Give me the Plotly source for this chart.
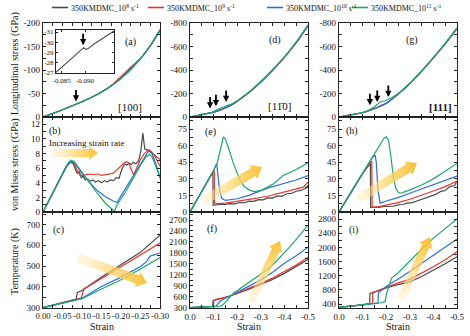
import math
import plotly.graph_objects as go

W, H = 470, 336
SERIF = "Liberation Serif"
INK = "#222222"

# ---- series -------------------------------------------------------------
SERIES_COLORS = ["#4a4a4a", "#e8332c", "#2d6fd8", "#1fa66c"]
SERIES_NAMES = [
    "350KMDMC_10<sup>8</sup> s<sup>-1</sup>",
    "350KMDMC_10<sup>9</sup> s<sup>-1</sup>",
    "350KMDMC_10<sup>10</sup> s<sup>-1</sup>",
    "350KMDMC_10<sup>11</sup> s<sup>-1</sup>",
]

# ---- (a) longitudinal stress, [100] --------------------------------------
STRAIN_A = [0, -0.025, -0.05, -0.075, -0.1, -0.125, -0.15, -0.175, -0.2, -0.225, -0.25, -0.275, -0.3]
A_GREY = [0, -7.5, -15.5, -24, -32.5, -42, -53, -66.5, -84, -104, -124, -151, -184]
A_RED = [0, -7.5, -15.5, -24, -32.5, -42, -53, -67, -86, -106, -125, -152, -184]
A_BLUE = [0, -7.5, -15.5, -24, -32.5, -42, -53, -66, -82, -101, -124, -152, -186]
A_GREEN = [0, -7.5, -15.5, -24, -32.5, -42, -53, -66, -82, -101, -124, -152, -185]

# inset of (a): local bump of the 10^8 s^-1 curve
INSET_STRAIN = [-0.0838, -0.0860, -0.0880, -0.0893, -0.0897, -0.0901, -0.0906, -0.0920, -0.0940, -0.0962]
INSET_STRESS = [-27.05, -27.9, -28.75, -29.3, -29.45, -29.3, -29.35, -29.85, -30.45, -31.1]

# ---- (b) von Mises stress, [100] -----------------------------------------
B_GREY_X = [0, -0.02, -0.04, -0.06, -0.07, -0.078, -0.083, -0.088, -0.093, -0.098, -0.103, -0.108,
            -0.115, -0.12, -0.128, -0.135, -0.142, -0.15, -0.158, -0.165, -0.172, -0.18, -0.188,
            -0.195, -0.2, -0.205, -0.21, -0.215, -0.22, -0.226, -0.232, -0.238, -0.245, -0.251,
            -0.256, -0.261, -0.268, -0.275, -0.285, -0.3]
B_GREY_Y = [0, 2.1, 4.2, 6.3, 6.8, 6.6, 5.8, 5.3, 5.5, 4.7, 4.9, 4.4, 4.5, 4.2, 4.4, 4.1, 4.3,
            4.0, 4.3, 4.1, 4.4, 4.3, 4.7, 4.6, 5.5, 6.2, 6.6, 6.4, 6.7, 6.5, 6.8, 6.6, 7.0, 8.4,
            10.8, 8.6, 8.5, 8.2, 7.9, 7.2]
B_RED_X = [0, -0.02, -0.04, -0.06, -0.072, -0.08, -0.085, -0.09, -0.095, -0.1, -0.11, -0.12,
           -0.13, -0.14, -0.15, -0.16, -0.17, -0.18, -0.19, -0.2, -0.21, -0.215, -0.22, -0.226,
           -0.232, -0.24, -0.25, -0.26, -0.27, -0.275, -0.285, -0.3]
B_RED_Y = [0, 2.1, 4.2, 6.2, 6.9, 6.7, 6.0, 5.4, 5.0, 5.0, 5.1, 5.2, 5.1, 5.2, 5.0, 5.1, 5.2,
           5.3, 5.8, 6.3, 6.8, 6.9, 6.7, 5.8, 5.1, 6.0, 7.2, 8.0, 8.5, 8.4, 7.8, 6.3]
B_BLUE_X = [0, -0.03, -0.06, -0.072, -0.08, -0.1, -0.12, -0.14, -0.16, -0.18, -0.19, -0.2,
            -0.22, -0.24, -0.26, -0.27, -0.278, -0.29, -0.3]
B_BLUE_Y = [0, 3.1, 6.2, 6.9, 6.8, 5.3, 4.0, 2.9, 2.1, 1.5, 1.3, 2.2, 4.0, 5.8, 7.6, 8.3, 8.2, 6.5, 4.6]
B_GREEN_X = [0, -0.03, -0.06, -0.065, -0.072, -0.08, -0.1, -0.12, -0.14, -0.16, -0.18, -0.183,
             -0.19, -0.21, -0.23, -0.25, -0.265, -0.274, -0.28, -0.29, -0.3]
B_GREEN_Y = [0, 3.0, 6.2, 6.8, 7.1, 6.9, 5.4, 3.9, 2.5, 1.2, 0.3, 0.1, 1.0, 2.6, 4.5, 6.4, 7.6,
             7.9, 7.5, 6.2, 4.8]

# ---- (c) temperature, [100] ----------------------------------------------
C_GREY_X = [0, -0.05, -0.085, -0.088, -0.1, -0.15, -0.2, -0.25, -0.257, -0.3]
C_GREY_Y = [300, 322, 341, 373, 383, 448, 506, 566, 578, 648]
C_RED_X = [0, -0.05, -0.085, -0.098, -0.105, -0.15, -0.2, -0.25, -0.3]
C_RED_Y = [300, 322, 340, 347, 390, 440, 497, 552, 611]
C_BLUE_X = [0, -0.05, -0.1, -0.15, -0.2, -0.25, -0.265, -0.275, -0.3]
C_BLUE_Y = [300, 322, 345, 402, 447, 498, 520, 548, 563]
C_GREEN_X = [0, -0.05, -0.1, -0.15, -0.2, -0.25, -0.3]
C_GREEN_Y = [300, 322, 343, 390, 434, 486, 541]

# ---- (d) longitudinal stress, [1-10] -------------------------------------
STRAIN_D = [0, -0.05, -0.085, -0.1, -0.12, -0.15, -0.175, -0.2, -0.25, -0.3, -0.35, -0.4, -0.45, -0.5]
D_GREY = [0, -20, -36, -42, -55, -78, -102, -135, -210, -300, -400, -510, -635, -782]
D_RED = [0, -20, -33, -38, -52, -76, -101, -134, -208, -296, -396, -505, -630, -776]
D_BLUE = [0, -20, -35, -41, -54, -78, -102, -135, -210, -300, -400, -510, -634, -780]
D_GREEN = [0, -20, -36, -46, -68, -92, -110, -138, -212, -302, -403, -512, -637, -785]

# ---- (e) von Mises stress, [1-10] ----------------------------------------
E_GREY_X = [0, -0.05, -0.097, -0.098, -0.11, -0.13, -0.15, -0.17, -0.19, -0.21, -0.23, -0.25,
            -0.27, -0.29, -0.31, -0.33, -0.35, -0.37, -0.39, -0.41, -0.43, -0.45, -0.47, -0.49, -0.5]
E_GREY_Y = [0, 18.5, 36, 6, 6.5, 7, 6.8, 7.6, 7.4, 8.6, 8.2, 9.8, 9.6, 11.2, 11.0, 12.8, 12.6,
            14.5, 14.2, 16.5, 16.8, 18.8, 19.5, 21.5, 24]
E_RED_X = [0, -0.05, -0.1, -0.103, -0.1035, -0.12, -0.15, -0.2, -0.25, -0.325, -0.4, -0.45, -0.48, -0.5]
E_RED_Y = [0, 18.5, 37.5, 38.5, 8, 7.5, 8, 9.5, 11.5, 14, 18, 21, 22.5, 27]
E_BLUE_X = [0, -0.05, -0.1, -0.113, -0.118, -0.125, -0.134, -0.15, -0.2, -0.25, -0.325, -0.4, -0.45, -0.5]
E_BLUE_Y = [0, 18.5, 37.5, 44, 35, 20, 12.4, 10.5, 12, 15, 21.4, 26, 29, 33]
E_GREEN_X = [0, -0.05, -0.1, -0.115, -0.125, -0.135, -0.141, -0.15, -0.16, -0.17, -0.184, -0.2,
             -0.212, -0.23, -0.25, -0.27, -0.3, -0.35, -0.395, -0.45, -0.5]
E_GREEN_Y = [0, 18.5, 37.5, 44, 52, 62, 68, 66, 60, 53, 44, 35, 29, 23, 20, 18.5, 19.5, 25, 33, 38.5, 44.5]

# ---- (f) temperature, [1-10] ---------------------------------------------
F_GREY_X = [0, -0.05, -0.096, -0.097, -0.11, -0.13, -0.15, -0.17, -0.2, -0.25, -0.3, -0.35, -0.4, -0.45, -0.5]
F_GREY_Y = [300, 315, 330, 490, 520, 550, 580, 620, 690, 810, 940, 1075, 1240, 1420, 1620]
F_RED_X = [0, -0.05, -0.1, -0.101, -0.11, -0.13, -0.15, -0.17, -0.2, -0.25, -0.3, -0.35, -0.4, -0.45, -0.5]
F_RED_Y = [300, 315, 332, 500, 530, 555, 580, 620, 700, 830, 968, 1115, 1285, 1470, 1680]
F_BLUE_X = [0, -0.05, -0.1, -0.11, -0.12, -0.13, -0.15, -0.17, -0.2, -0.25, -0.3, -0.35, -0.4, -0.45, -0.5]
F_BLUE_Y = [300, 315, 330, 340, 420, 490, 560, 630, 730, 890, 1058, 1270, 1515, 1720, 1953]
F_GREEN_X = [0, -0.05, -0.1, -0.13, -0.14, -0.15, -0.16, -0.17, -0.184, -0.2, -0.25, -0.3,
             -0.325, -0.35, -0.4, -0.424, -0.45, -0.5]
F_GREEN_Y = [300, 315, 330, 345, 380, 460, 540, 600, 694, 766, 992, 1218, 1331, 1470, 1800, 1970, 2170, 2563]

# ---- (g) longitudinal stress, [111] --------------------------------------
STRAIN_G = [0, -0.05, -0.085, -0.1, -0.12, -0.15, -0.175, -0.2, -0.25, -0.3, -0.35, -0.4, -0.45, -0.5]
G_GREY = [0, -18, -32, -38, -50, -72, -94, -118, -195, -285, -390, -505, -625, -756]
G_RED = [0, -18, -30, -36, -48, -70, -93, -117, -194, -283, -388, -502, -622, -752]
G_BLUE = [0, -18, -31, -37, -49, -70, -92, -116, -194, -284, -390, -505, -625, -756]
G_GREEN = [0, -18, -32, -38, -52, -88, -125, -142, -198, -287, -392, -506, -627, -758]

# ---- (h) von Mises stress, [111] -----------------------------------------
H_GREY_X = [0, -0.05, -0.1, -0.133, -0.134, -0.15, -0.17, -0.19, -0.21, -0.23, -0.25, -0.27,
            -0.29, -0.31, -0.33, -0.35, -0.37, -0.39, -0.41, -0.43, -0.45, -0.47, -0.49, -0.5]
H_GREY_Y = [0, 17.5, 35, 44, 4, 4.5, 4.2, 5.0, 5.4, 5.2, 6.5, 6.8, 8.0, 8.5, 10.0, 11.5, 12.5,
            14.5, 16.0, 18.5, 19.5, 23, 24, 28]
H_RED_X = [0, -0.05, -0.1, -0.139, -0.1405, -0.16, -0.2, -0.25, -0.3, -0.35, -0.4, -0.45, -0.5]
H_RED_Y = [0, 17.5, 35, 46, 4.5, 4.5, 6, 8.5, 11.5, 15, 19, 23, 28]
H_BLUE_X = [0, -0.05, -0.1, -0.139, -0.153, -0.158, -0.165, -0.174, -0.2, -0.25, -0.3, -0.35, -0.4, -0.45, -0.5]
H_BLUE_Y = [0, 17.5, 35, 48.5, 51.5, 45, 20, 8, 10, 13, 17, 21, 25, 29, 32.5]
H_GREEN_X = [0, -0.05, -0.1, -0.139, -0.16, -0.18, -0.19, -0.2, -0.21, -0.22, -0.23, -0.24,
             -0.25, -0.258, -0.27, -0.3, -0.35, -0.4, -0.45, -0.5]
H_GREEN_Y = [0, 17.5, 35, 48.5, 56, 63, 66.5, 68, 65, 50, 32, 22, 18, 17, 17.5, 20, 24.5, 30, 37, 44]

# ---- (i) temperature, [111] ----------------------------------------------
I_GREY_X = [0, -0.05, -0.1, -0.13, -0.131, -0.15, -0.2, -0.25, -0.3, -0.35, -0.4, -0.45, -0.5]
I_GREY_Y = [310, 340, 380, 420, 700, 740, 860, 950, 1030, 1180, 1350, 1540, 1735]
I_RED_X = [0, -0.05, -0.1, -0.142, -0.143, -0.16, -0.2, -0.25, -0.3, -0.35, -0.4, -0.45, -0.5]
I_RED_Y = [310, 340, 380, 425, 730, 770, 880, 1000, 1100, 1270, 1453, 1650, 1877]
I_BLUE_X = [0, -0.05, -0.1, -0.15, -0.165, -0.167, -0.18, -0.2, -0.22, -0.25, -0.3, -0.35, -0.4, -0.45, -0.5]
I_BLUE_Y = [310, 340, 380, 420, 430, 720, 800, 900, 993, 1100, 1320, 1550, 1792, 2000, 2235]
I_GREEN_X = [0, -0.05, -0.1, -0.15, -0.18, -0.195, -0.202, -0.21, -0.215, -0.223, -0.25, -0.3,
             -0.35, -0.4, -0.45, -0.5]
I_GREEN_Y = [310, 340, 380, 420, 440, 470, 710, 900, 1000, 1134, 1280, 1620, 1950, 2263, 2520, 2800]

PANELS = {
    1: [(STRAIN_A, A_GREY), (STRAIN_A, A_RED), (STRAIN_A, A_BLUE), (STRAIN_A, A_GREEN)],
    2: [(STRAIN_D, D_GREY), (STRAIN_D, D_RED), (STRAIN_D, D_BLUE), (STRAIN_D, D_GREEN)],
    3: [(STRAIN_G, G_GREY), (STRAIN_G, G_RED), (STRAIN_G, G_BLUE), (STRAIN_G, G_GREEN)],
    4: [(B_GREY_X, B_GREY_Y), (B_RED_X, B_RED_Y), (B_BLUE_X, B_BLUE_Y), (B_GREEN_X, B_GREEN_Y)],
    5: [(E_GREY_X, E_GREY_Y), (E_RED_X, E_RED_Y), (E_BLUE_X, E_BLUE_Y), (E_GREEN_X, E_GREEN_Y)],
    6: [(H_GREY_X, H_GREY_Y), (H_RED_X, H_RED_Y), (H_BLUE_X, H_BLUE_Y), (H_GREEN_X, H_GREEN_Y)],
    7: [(C_GREY_X, C_GREY_Y), (C_RED_X, C_RED_Y), (C_BLUE_X, C_BLUE_Y), (C_GREEN_X, C_GREEN_Y)],
    8: [(F_GREY_X, F_GREY_Y), (F_RED_X, F_RED_Y), (F_BLUE_X, F_BLUE_Y), (F_GREEN_X, F_GREEN_Y)],
    9: [(I_GREY_X, I_GREY_Y), (I_RED_X, I_RED_Y), (I_BLUE_X, I_BLUE_Y), (I_GREEN_X, I_GREEN_Y)],
}
SMOOTH_PANELS = {1, 2, 3}

# ---- layout geometry (pixels) --------------------------------------------
COLS = [(43, 160), (190, 308), (339, 457)]
ROWS = [(23, 117), (117, 212), (212, 307.7)]

X_RANGES = [[0, -0.3], [0, -0.5], [0, -0.5]]
X_TICKS = [
    ([0, -0.05, -0.1, -0.15, -0.2, -0.25, -0.3], ["0.00", "-0.05", "-0.10", "-0.15", "-0.20", "-0.25", "-0.30"], 0.025),
    ([0, -0.1, -0.2, -0.3, -0.4, -0.5], ["0.0", "-0.1", "-0.2", "-0.3", "-0.4", "-0.5"], 0.05),
    ([0, -0.1, -0.2, -0.3, -0.4, -0.5], ["0.0", "-0.1", "-0.2", "-0.3", "-0.4", "-0.5"], 0.05),
]
Y_SETUP = {
    1: ([0, -200], [0, -50, -100, -150, -200], 25),
    2: ([0, -800], [0, -200, -400, -600, -800], 100),
    3: ([0, -800], [0, -200, -400, -600, -800], 100),
    4: ([0, 13], [0, 2, 4, 6, 8, 10, 12], 1),
    5: ([0, 86], [0, 15, 30, 45, 60, 75], 7.5),
    6: ([0, 86], [0, 15, 30, 45, 60, 75], 7.5),
    7: ([300, 760], [300, 400, 500, 600, 700], 50),
    8: ([300, 2920], [300, 600, 900, 1200, 1500, 1800, 2100, 2400, 2700], 150),
    9: ([300, 3000], [400, 800, 1200, 1600, 2000, 2400, 2800], 200),
}


def px_x(x):
    return x / W


def px_y(y):
    return 1 - y / H


def with_minor(vals, texts, step, lo, hi):
    """Major tick values plus unlabeled in-between ticks every `step`."""
    a, b = min(lo, hi), max(lo, hi)
    allv, allt = list(vals), list(texts)
    n0 = math.ceil(a / step - 1e-9)
    n1 = math.floor(b / step + 1e-9)
    for n in range(n0, n1 + 1):
        v = round(n * step, 6)
        if all(abs(v - m) > 1e-9 for m in vals):
            allv.append(v)
            allt.append("")
    return allv, allt


def axis_common():
    return dict(showline=True, linecolor=INK, linewidth=1.2, mirror="allticks",
                ticks="inside", ticklen=3, tickwidth=1, tickcolor=INK,
                showgrid=False, zeroline=False, automargin=False, tickangle=0,
                tickfont=dict(family=SERIF, size=9, color="#111"))


fig = go.Figure()
layout = {}

for r in range(3):
    for c in range(3):
        k = r * 3 + c + 1
        sx = "" if k == 1 else str(k)
        tv, tt, mdt = X_TICKS[c]
        xv, xt = with_minor(tv, tt, mdt, *X_RANGES[c])
        xa = axis_common()
        xa.update(domain=[px_x(COLS[c][0]), px_x(COLS[c][1])], range=X_RANGES[c],
                  anchor="y" + sx, tickmode="array", tickvals=xv, ticktext=xt,
                  showticklabels=(r == 2))
        if c == 0:
            xa["tickfont"] = dict(family=SERIF, size=8.6, color="#111")
        yr, ytv, ymdt = Y_SETUP[k]
        yv, yt = with_minor(ytv, [str(v) for v in ytv], ymdt, *yr)
        ya = axis_common()
        ya.update(domain=[px_y(ROWS[r][1]), px_y(ROWS[r][0])], range=yr, anchor="x" + sx,
                  tickmode="array", tickvals=yv, ticktext=yt)
        layout["xaxis" + sx] = xa
        layout["yaxis" + sx] = ya
        for i, (xs, ys) in enumerate(PANELS[k]):
            line = dict(color=SERIES_COLORS[i], width=1.2)
            if k in SMOOTH_PANELS:
                line.update(shape="spline", smoothing=0.8)
            fig.add_trace(go.Scatter(x=xs, y=ys, mode="lines", line=line,
                                     name=SERIES_NAMES[i], showlegend=False,
                                     xaxis="x" + sx, yaxis="y" + sx, hoverinfo="skip"))

# inset inside (a)
ia_x = axis_common()
ia_x.update(domain=[px_x(56), px_x(114)], range=[-0.0838, -0.0962], anchor="y10",
            tickmode="array", tickvals=[-0.085, -0.090], ticktext=["-0.085", "-0.090"],
            ticklen=2, tickfont=dict(family=SERIF, size=7, color="#111"), linewidth=1)
ia_y = axis_common()
ia_y.update(domain=[px_y(73.3), px_y(30)], range=[-26.95, -31.2], anchor="x10",
            tickmode="array", tickvals=[-27, -28, -29, -30, -31],
            ticktext=["-27", "-28", "-29", "-30", "-31"], ticklen=2,
            tickfont=dict(family=SERIF, size=7, color="#111"), linewidth=1)
layout["xaxis10"] = ia_x
layout["yaxis10"] = ia_y
fig.add_trace(go.Scatter(x=INSET_STRAIN, y=INSET_STRESS, mode="lines",
                         line=dict(color=SERIES_COLORS[0], width=1.1),
                         showlegend=False, xaxis="x10", yaxis="y10", hoverinfo="skip"))

# full-page overlay in pixel units for the trend arrows
layout["xaxis11"] = dict(domain=[0, 1], range=[0, W], visible=False, anchor="y11", fixedrange=True)
layout["yaxis11"] = dict(domain=[0, 1], range=[0, H], visible=False, anchor="x11", fixedrange=True)


def trend_arrow(x0, y0, x1, y1, w, hw, hl, vertical=False):
    dx, dy = x1 - x0, y1 - y0
    L = math.hypot(dx, dy)
    ux, uy = dx / L, dy / L
    nx, ny = -uy, ux
    bx, by = x1 - ux * hl, y1 - uy * hl
    pts = [(x0 + nx * w / 2, y0 + ny * w / 2), (bx + nx * w / 2, by + ny * w / 2),
           (bx + nx * hw / 2, by + ny * hw / 2), (x1, y1),
           (bx - nx * hw / 2, by - ny * hw / 2), (bx - nx * w / 2, by - ny * w / 2),
           (x0 - nx * w / 2, y0 - ny * w / 2), (x0 + nx * w / 2, y0 + ny * w / 2)]
    xs = [p[0] for p in pts]
    ys = [H - p[1] for p in pts]
    fig.add_trace(go.Scatter(
        x=xs, y=ys, mode="lines", fill="toself", line=dict(width=0, color="rgba(0,0,0,0)"),
        fillgradient=dict(type="vertical" if vertical else "horizontal",
                          colorscale=[[0, "rgba(253,236,185,0.35)"], [0.5, "rgba(252,214,110,0.75)"],
                                      [1, "rgba(249,190,45,0.95)"]]),
        showlegend=False, xaxis="x11", yaxis="y11", hoverinfo="skip"))


trend_arrow(52, 153, 98, 153, 8, 14, 9)
trend_arrow(78, 258, 147, 283, 9, 16, 10)
trend_arrow(203, 201, 262, 167, 9, 16, 10)
trend_arrow(358, 199, 417, 163, 9, 16, 10)
trend_arrow(251, 302, 280, 241, 8, 15, 10, vertical=True)
trend_arrow(401, 299, 430, 237, 8, 15, 10, vertical=True)

annotations = []
shapes = []

# legend row
LEGEND_LINES = [(52, 68), (148, 164), (267, 283), (352, 368)]
for i, (a, b) in enumerate(LEGEND_LINES):
    shapes.append(dict(type="line", xref="paper", yref="paper", x0=px_x(a), x1=px_x(b),
                       y0=px_y(7.5), y1=px_y(7.5), line=dict(color=SERIES_COLORS[i], width=1.6)))
    annotations.append(dict(xref="paper", yref="paper", x=px_x(b + 0.5), y=px_y(7.5),
                            text=SERIES_NAMES[i], showarrow=False, xanchor="left", yanchor="middle",
                            font=dict(family=SERIF, size=8, color="#111")))

# panel letters
LETTERS = [("(a)", 130, 42), ("(b)", 55, 131), ("(c)", 58, 230), ("(d)", 275, 40), ("(e)", 210, 132),
           ("(f)", 212, 229), ("(g)", 412, 40), ("(h)", 352, 131), ("(i)", 353, 230)]
for t, x, y in LETTERS:
    annotations.append(dict(xref="paper", yref="paper", x=px_x(x), y=px_y(y), text=t, showarrow=False,
                            xanchor="center", yanchor="middle",
                            font=dict(family=SERIF, size=10, color="#111")))

# loading directions
for t, x, y in [("[100]", 130, 107), ("[11\u03040]", 279, 106), ("<b>[111]</b>", 440, 107)]:
    annotations.append(dict(xref="paper", yref="paper", x=px_x(x), y=px_y(y), text=t, showarrow=False,
                            xanchor="center", yanchor="middle",
                            font=dict(family=SERIF, size=11, color="#111")))

annotations.append(dict(xref="paper", yref="paper", x=px_x(47), y=px_y(143),
                        text="Increasing strain rate", showarrow=False, xanchor="left",
                        yanchor="middle", font=dict(family=SERIF, size=9, color="#111")))

# axis titles
for t, y in [("Longitudinal stress (GPa)", 64), ("von Mises stress (GPa)", 165), ("Temperature (K)", 262)]:
    annotations.append(dict(xref="paper", yref="paper", x=px_x(15), y=px_y(y), text=t, showarrow=False,
                            textangle=-90, xanchor="center", yanchor="middle",
                            font=dict(family=SERIF, size=10, color="#111")))
for x in [101.5, 249, 398]:
    annotations.append(dict(xref="paper", yref="paper", x=px_x(x), y=px_y(326.5), text="Strain",
                            showarrow=False, xanchor="center", yanchor="middle",
                            font=dict(family=SERIF, size=10, color="#111")))

# black markers pointing at yield events
EVENT_ARROWS = [("x", "y", -0.0846, -33), ("x10", "y10", -0.0896, -29.7),
                ("x2", "y2", -0.085, -72), ("x2", "y2", -0.110, -92), ("x2", "y2", -0.153, -128),
                ("x3", "y3", -0.131, -100), ("x3", "y3", -0.162, -128), ("x3", "y3", -0.209, -170)]
for xr, yr, x, y in EVENT_ARROWS:
    annotations.append(dict(xref=xr, yref=yr, x=x, y=y, ax=0, ay=-13, showarrow=True,
                            arrowhead=2, arrowsize=0.7, arrowwidth=1.8, arrowcolor="#000", text=""))

fig.update_layout(**layout)
# transparent plot areas: the inset and the arrow overlay share space with the panels
fig.update_layout(width=W, height=H, margin=dict(l=0, r=0, t=0, b=0),
                  paper_bgcolor="white", plot_bgcolor="rgba(0,0,0,0)", showlegend=False,
                  annotations=annotations, shapes=shapes,
                  font=dict(family=SERIF, size=9, color="#111"))

fig.write_html("out.html")
